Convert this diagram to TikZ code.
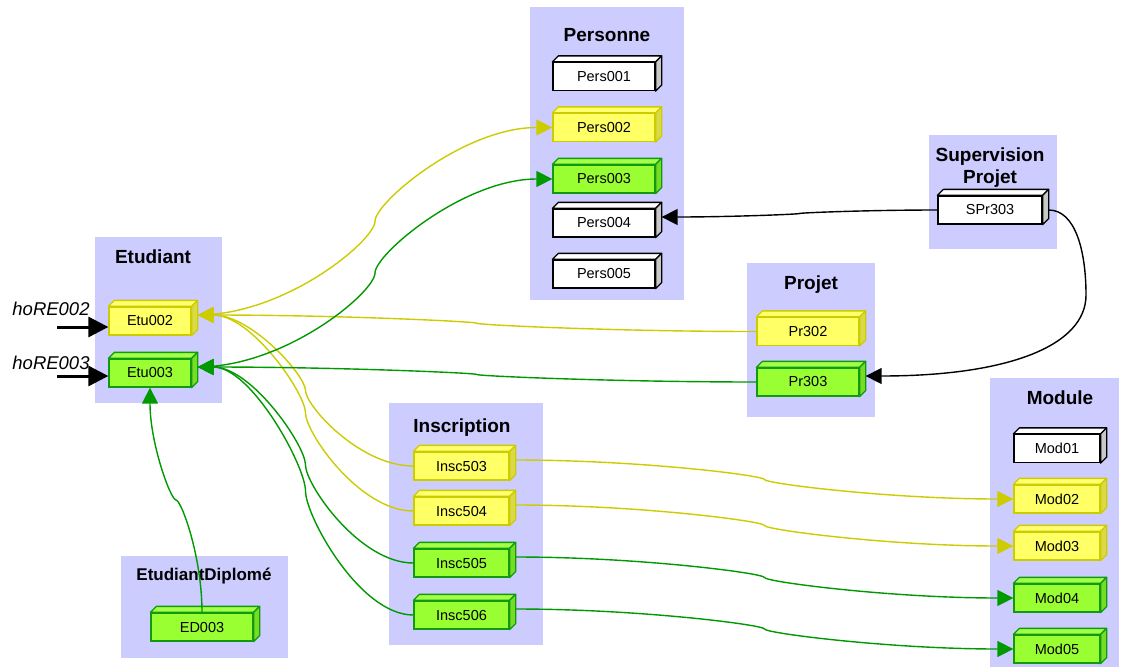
\documentclass[tikz,border=0pt]{standalone}
\usepackage{fontspec}
\setmainfont{Liberation Sans}
\usetikzlibrary{arrows.meta,calc}
\definecolor{cont}{HTML}{CCCCFF}
\definecolor{yelfront}{HTML}{FFFF66}
\definecolor{yeltop}{HTML}{FFFF70}
\definecolor{yelside}{HTML}{D9D94A}
\definecolor{yelline}{HTML}{CCCC00}
\definecolor{grnfront}{HTML}{99FF33}
\definecolor{grntop}{HTML}{A3FF47}
\definecolor{grnside}{HTML}{77DD22}
\definecolor{grnline}{HTML}{119911}
\definecolor{whtfront}{HTML}{FFFFFF}
\definecolor{whttop}{HTML}{FFFFFF}
\definecolor{whtside}{HTML}{C8C8C8}
\definecolor{whtline}{HTML}{000000}
\definecolor{yconncol}{HTML}{CCCC00}
\definecolor{gconncol}{HTML}{009900}

\tikzset{
  ctitle/.style={font=\bfseries\fontsize{19pt}{22pt}\selectfont, align=center, inner sep=0pt},
  ent/.style={minimum height=28pt, inner sep=0pt, line width=1.3pt, font=\fontsize{14.5pt}{17pt}\selectfont},
  hlabel/.style={font=\itshape\fontsize{18.5pt}{20pt}\selectfont, inner sep=0pt},
  tip/.style={-{Triangle[length=16pt,width=16pt]}},
  yconn/.style={draw=yconncol, line width=1.4pt, tip},
  gconn/.style={draw=gconncol, line width=1.4pt, tip},
  kconn/.style={draw=black, line width=1.4pt, tip},
  vis/.style={to path={let \p1=(\tikztostart), \p2=(\tikztotarget) in
    .. controls ({0.75*\x1+0.25*\x2},\y1) and ({0.5*\x1+0.5*\x2},{0.6*\y1+0.4*\y2})
    .. ({0.5*\x1+0.5*\x2},{0.5*\y1+0.5*\y2})
    .. controls ({0.5*\x1+0.5*\x2},{0.4*\y1+0.6*\y2}) and ({0.25*\x1+0.75*\x2},\y2)
    .. (\p2) \tikztonodes}},
  vvis/.style={to path={let \p1=(\tikztostart), \p2=(\tikztotarget) in
    .. controls (\x1,{0.75*\y1+0.25*\y2}) and ({0.6*\x1+0.4*\x2},{0.5*\y1+0.5*\y2})
    .. ({0.5*\x1+0.5*\x2},{0.5*\y1+0.5*\y2})
    .. controls ({0.4*\x1+0.6*\x2},{0.5*\y1+0.5*\y2}) and (\x2,{0.25*\y1+0.75*\y2})
    .. (\p2) \tikztonodes}},
}

% #1 name, #2 position, #3 width, #4 text, #5 colour scheme
\newcommand\mkbox[5]{%
  \node[ent, minimum width=#3, fill=#5front, draw=#5line] (#1) at (#2) {#4};
  \filldraw[draw=#5line, fill=#5top, line width=1.3pt, line join=round]
    (#1.north west) -- ++(6pt,6pt) -- ([shift={(6pt,6pt)}]#1.north east) -- (#1.north east) -- cycle;
  \filldraw[draw=#5line, fill=#5side, line width=1.3pt, line join=round]
    (#1.north east) -- ++(6pt,6pt) -- ([shift={(6pt,6pt)}]#1.south east) -- (#1.south east) -- cycle;
  \coordinate (#1-r) at ([shift={(6pt,6pt)}]#1.east);
}

\begin{document}
\begin{tikzpicture}[x=1pt,y=-1pt]
\useasboundingbox (0,0) rectangle (1121,667);
\fill[white] (0,0) rectangle (1121,667);

% containers
\fill[cont] (95,237) rectangle (222,403);
\fill[cont] (530,7) rectangle (684,300);
\fill[cont] (929,135) rectangle (1057,249);
\fill[cont] (747,263) rectangle (875,417);
\fill[cont] (990,378) rectangle (1119,667);
\fill[cont] (389,403) rectangle (543,645);
\fill[cont] (121,556) rectangle (288,658);

% titles
\node[ctitle] (tEtu) at (153,257) {Etudiant};
\node[ctitle] (tPers) at (607,35) {Personne};
\node[ctitle] (tSup) at (990,168) {Supervision\\Projet};
\node[ctitle] (tProj) at (811,285) {Projet};
\node[ctitle] (tMod) at (1060,398) {Module};
\node[ctitle] (tInsc) at (462,428) {Inscription};
\node[ctitle, font=\bfseries\fontsize{17pt}{20pt}\selectfont] (tED) at (204,576) {EtudiantDiplomé};

% entities
\mkbox{Etu002}{150,321}{82pt}{Etu002}{yel}
\mkbox{Etu003}{150,373}{82pt}{Etu003}{grn}

\mkbox{Pers001}{604,76.5}{102pt}{Pers001}{wht}
\mkbox{Pers002}{604,127.5}{102pt}{Pers002}{yel}
\mkbox{Pers003}{604,179}{102pt}{Pers003}{grn}
\mkbox{Pers004}{604,223}{102pt}{Pers004}{wht}
\mkbox{Pers005}{604,274}{102pt}{Pers005}{wht}

\mkbox{SPr303}{990,210}{104pt}{SPr303}{wht}

\mkbox{Pr302}{808,331.5}{102pt}{Pr302}{yel}
\mkbox{Pr303}{808,382}{102pt}{Pr303}{grn}

\mkbox{Insc503}{461.5,466}{95pt}{Insc503}{yel}
\mkbox{Insc504}{461.5,511}{95pt}{Insc504}{yel}
\mkbox{Insc505}{461.5,563}{95pt}{Insc505}{grn}
\mkbox{Insc506}{461.5,615}{95pt}{Insc506}{grn}

\mkbox{Mod01}{1057,448.5}{86pt}{Mod01}{wht}
\mkbox{Mod02}{1057,499}{86pt}{Mod02}{yel}
\mkbox{Mod03}{1057,546}{86pt}{Mod03}{yel}
\mkbox{Mod04}{1057,598}{86pt}{Mod04}{grn}
\mkbox{Mod05}{1057,649}{86pt}{Mod05}{grn}

\mkbox{ED003}{202,627}{102pt}{ED003}{grn}

% yellow connectors
\draw[yconn] (Etu002-r) to[vis] (Pers002.west);
\draw[yconn] (Pr302.west) to[vis] (Etu002-r);
\draw[yconn] (Insc503.west) to[vis] (Etu002-r);
\draw[yconn] (Insc504.west) to[vis] (Etu002-r);
\draw[yconn] (Insc503-r) to[vis] (Mod02.west);
\draw[yconn] (Insc504-r) to[vis] (Mod03.west);

% green connectors
\draw[gconn] (Etu003-r) to[vis] (Pers003.west);
\draw[gconn] (Pr303.west) to[vis] (Etu003-r);
\draw[gconn] (Insc505.west) to[vis] (Etu003-r);
\draw[gconn] (Insc506.west) to[vis] (Etu003-r);
\draw[gconn] (Insc505-r) to[vis] (Mod04.west);
\draw[gconn] (Insc506-r) to[vis] (Mod05.west);
\draw[gconn] (ED003.north) to[vvis] (Etu003.south);

% black connectors
\draw[kconn] (SPr303.west) to[vis] (Pers004-r);
\draw[kconn] ([xshift=6pt]SPr303.east) .. controls (1075,210) and (1086,250) .. (1086,295)
  .. controls (1086,345) and (1010,376) .. (Pr303-r);

% incoming arrows
\node[hlabel] (l2) at (51,309) {hoRE002};
\node[hlabel] (l3) at (51,363) {hoRE003};
\coordinate (h2) at (57,327);
\coordinate (h3) at (57,376);
\draw[line width=3pt, -{Triangle[length=20pt,width=20pt]}] (h2) -- (h2 -| Etu002.west);
\draw[line width=3pt, -{Triangle[length=20pt,width=20pt]}] (h3) -- (h3 -| Etu003.west);
\end{tikzpicture}
\end{document}
